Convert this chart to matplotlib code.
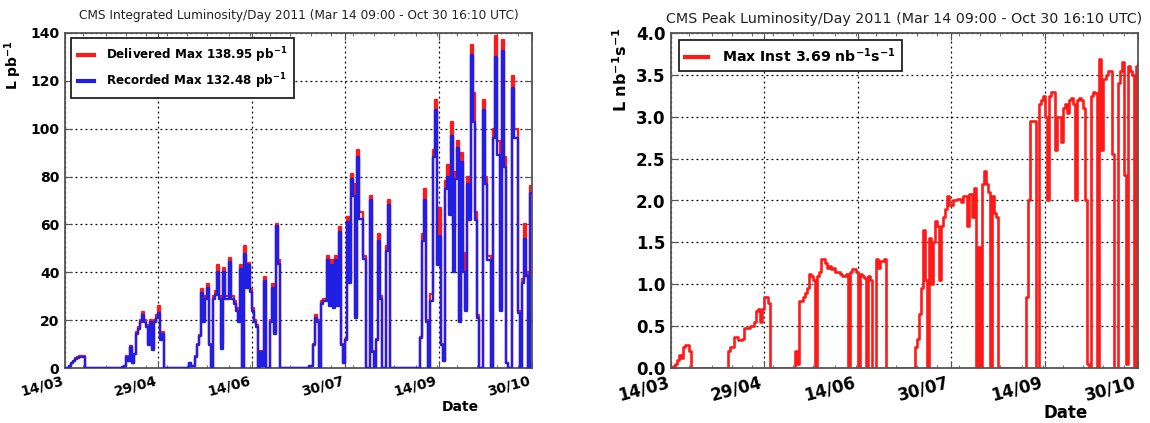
import numpy as np
import pandas as pd
import matplotlib
matplotlib.use('Agg')
import matplotlib.pyplot as plt
import matplotlib.dates as mdates
from matplotlib.lines import Line2D

# ---------------- data ----------------
start_date = '2011-03-14'
tick_dates = ['2011-03-14', '2011-04-29', '2011-06-14', '2011-07-30', '2011-09-14', '2011-10-30']
tick_labels = ['14/03', '29/04', '14/06', '30/07', '14/09', '30/10']

left_title = 'CMS Integrated Luminosity/Day 2011 (Mar 14 09:00 - Oct 30 16:10 UTC)'
right_title = 'CMS Peak Luminosity/Day 2011 (Mar 14 09:00 - Oct 30 16:10 UTC)'

delivered_label = 'Delivered Max 138.95 pb$^{-1}$'
recorded_label = 'Recorded Max 132.48 pb$^{-1}$'
peak_label = 'Max Inst 3.69 nb$^{-1}$s$^{-1}$'

# daily delivered integrated luminosity (pb^-1), Mar 14 .. Oct 30
delivered = [
    0, 0, 1, 2, 3, 4, 4.5, 5, 5, 5,
    0, 0, 0, 0, 0, 0, 0, 0, 0, 0,
    0, 0, 0, 0, 0, 0, 0, 0, 0.5, 1,
    5, 3, 9, 2, 6, 15, 17, 20, 23.5, 20,
    18, 10, 20, 8, 20, 22, 26, 12, 15, 0,
    0, 0, 0, 0, 0, 0, 0, 0, 0, 0,
    0, 2, 1, 1, 5, 10, 14, 33, 20, 30,
    35, 10, 0, 30, 32, 43, 30, 10, 42, 30,
    30, 46, 30, 28, 25, 20, 43, 0, 51, 35,
    44, 33, 25, 20, 18, 0, 7, 1, 38, 0,
    0, 20, 35, 15, 60, 45, 0, 0, 0, 0,
    0, 0, 0, 0, 0, 0, 0, 0, 0, 0,
    1, 1, 10, 22, 20, 0, 28, 29, 29, 47,
    27, 45, 26, 47, 27, 59, 10, 2, 12, 63,
    37, 81, 77, 22, 91, 65, 65, 47, 0, 0,
    72, 7, 0, 12, 56, 30, 0, 0, 51, 70,
    0, 0, 0, 0, 0, 0, 0, 0, 0, 0,
    0, 0, 0, 0, 0, 13, 56, 75, 20, 0,
    31, 91, 112, 45, 67, 10, 3, 78, 85, 67,
    103, 58, 82, 95, 20, 90, 48, 25, 80, 65,
    135, 115, 65, 22, 0, 0, 112, 80, 47, 47,
    0, 100, 138.95, 95, 25, 137, 88, 2, 0, 0,
    122, 100, 100, 24, 0, 37, 60, 40, 0, 76,
    76,
]

# daily recorded integrated luminosity (pb^-1)
recorded = [
    0, 0, 1, 1.9, 2.9, 3.8, 4.3, 4.8, 4.8, 4.8,
    0, 0, 0, 0, 0, 0, 0, 0, 0, 0,
    0, 0, 0, 0, 0, 0, 0, 0, 0.5, 1,
    4.8, 2.9, 8.6, 1.9, 5.7, 14.4, 16.3, 19.2, 22.3, 19.2,
    17.3, 9.6, 19.2, 7.7, 19.2, 21.1, 23, 11.5, 14.4, 0,
    0, 0, 0, 0, 0, 0, 0, 0, 0, 0,
    0, 1.9, 1, 1, 4.8, 9.6, 13.4, 31.5, 19.2, 28.8,
    33.6, 9.6, 0, 28.8, 30.7, 40, 28.8, 8, 40.3, 28.8,
    28.8, 44.2, 28.8, 26.9, 24, 19.2, 41.3, 0, 47.5, 33.6,
    43, 31.7, 24, 19.2, 17.3, 0, 6.7, 1, 36.5, 0,
    0, 19.2, 33.6, 14.4, 59.5, 43.5, 0, 0, 0, 0,
    0, 0, 0, 0, 0, 0, 0, 0, 0, 0,
    1, 1, 9.6, 21.1, 19.2, 0, 26.9, 27.8, 27.8, 45,
    26, 43.2, 25, 45, 26, 57, 9.6, 1.9, 11.5, 61,
    35.5, 79, 72, 21, 88, 62.4, 62.4, 45.5, 0, 0,
    70, 6.7, 0, 11.5, 53, 28.8, 0, 0, 49, 68,
    0, 0, 0, 0, 0, 0, 0, 0, 0, 0,
    0, 0, 0, 0, 0, 12.5, 53, 70, 19.2, 0,
    28, 88, 108, 43, 55, 9.6, 2.9, 75, 80, 64,
    97, 40, 79, 92, 19.2, 86, 40, 24, 77, 62,
    131, 103, 62, 21, 0, 0, 108, 77, 45, 45,
    0, 96, 130, 89, 24, 132.48, 84, 1.9, 0, 0,
    117, 96, 96, 23, 0, 35.5, 54, 38.4, 0, 73,
    73,
]

# daily peak instantaneous luminosity (nb^-1 s^-1)
peak = [
    0, 0.02, 0.05, 0.1, 0.15, 0.12, 0.25, 0.27, 0.27, 0.2,
    0, 0, 0, 0, 0, 0, 0, 0, 0, 0,
    0, 0, 0, 0, 0, 0, 0, 0, 0.2, 0.25,
    0.25, 0.37, 0.37, 0.33, 0.33, 0.35, 0.48, 0.48, 0.48, 0.5,
    0.5, 0.55, 0.68, 0.7, 0.55, 0.7, 0.85, 0.85, 0.78, 0,
    0, 0, 0, 0, 0, 0, 0, 0, 0, 0,
    0, 0.2, 0.05, 0.8, 0.8, 0.85, 0.9, 0.95, 1.12, 1.1,
    1.05, 0, 1.1, 1.15, 1.3, 1.3, 1.25, 1.2, 1.22, 1.18,
    1.2, 1.15, 1.15, 1.12, 1.1, 1.1, 1.12, 0, 1.15, 1.18,
    1.18, 1.15, 0, 1.12, 1.1, 1.08, 0, 1.1, 1.05, 0,
    0, 1.3, 1.2, 1.28, 1.28, 1.3, 0, 0, 0, 0,
    0, 0, 0, 0, 0, 0, 0, 0, 0, 0,
    0.25, 0.35, 0.65, 0.95, 1.65, 1.05, 0, 1.55, 1.0, 1.5,
    1.75, 1.7, 1.05, 1.7, 1.8, 1.9, 2.05, 1.95, 1.95, 2.0,
    2.0, 2.02, 2.02, 1.98, 2.05, 2.05, 1.7, 2.08, 1.8, 2.15,
    0, 1.45, 0, 2.2, 2.35, 2.2, 2.1, 0, 2.05, 1.85,
    1.8, 0, 0, 0, 0, 0, 0, 0, 0, 0,
    0, 0, 0, 0, 0, 0.85, 2.0, 2.95, 2.95, 2.95,
    0, 3.15, 3.2, 3.25, 3.0, 2.0, 3.25, 3.3, 3.3, 2.6,
    3.0, 3.0, 2.7, 3.1, 3.15, 3.05, 3.2, 3.22, 3.15, 2.0,
    3.2, 3.22, 3.2, 3.1, 2.0, 0.05, 0, 3.25, 3.3, 3.28,
    0, 3.69, 2.6, 3.45, 3.5, 3.55, 3.55, 2.55, 0, 0,
    3.4, 3.55, 3.65, 2.3, 0.05, 3.6, 3.55, 3.5, 0, 3.6,
    3.63,
]

left_yticks = [0, 20, 40, 60, 80, 100, 120, 140]
right_yticks = [0.0, 0.5, 1.0, 1.5, 2.0, 2.5, 3.0, 3.5, 4.0]

# ---------------- style ----------------
plt.rcParams['font.family'] = ['DejaVu Sans']
plt.rcParams['mathtext.default'] = 'regular'
plt.rcParams['xtick.direction'] = 'in'
plt.rcParams['ytick.direction'] = 'in'
plt.rcParams['xtick.top'] = True
plt.rcParams['ytick.right'] = True

days = pd.date_range(start_date, periods=len(delivered), freq='D')
x = mdates.date2num(days.to_pydatetime())
xt = mdates.date2num(pd.to_datetime(tick_dates).to_pydatetime())

RED = '#ff1a1a'
BLUE = '#1f1fe6'
SPINE = '#555555'

fig = plt.figure(figsize=(11.5, 4.23), dpi=100)
axL = fig.add_axes([65 / 1150, 55 / 423, 467 / 1150, 335 / 423])
axR = fig.add_axes([671 / 1150, 55 / 423, 467 / 1150, 335 / 423])


def style_axes(ax, fs):
    for s in ax.spines.values():
        s.set_color(SPINE)
        s.set_linewidth(1.3)
    ax.grid(True, linestyle=(0, (1.5, 2.5)), color='k', linewidth=0.9)
    ax.set_axisbelow(True)
    ax.set_xlim(xt[0], xt[-1])
    ax.set_xticks(xt)
    ax.set_xticklabels(tick_labels, rotation=15, ha='right')
    ax.xaxis.set_minor_locator(mdates.DayLocator(bymonthday=[3, 13, 23]))
    ax.tick_params(which='major', length=5, width=0.8, color=SPINE, labelsize=fs, pad=4)
    ax.tick_params(which='minor', length=2.5, width=0.6, color=SPINE)
    for lab in ax.get_xticklabels() + ax.get_yticklabels():
        lab.set_fontweight('bold')


# ---- left: integrated luminosity per day ----
axL.step(x, delivered, where='post', color=RED, linewidth=1.7, zorder=2)
axL.step(x, recorded, where='post', color=BLUE, linewidth=1.7, zorder=3)
axL.set_ylim(0, 140)
axL.set_yticks(left_yticks)
style_axes(axL, 10)
axL.set_title(left_title, fontsize=8.7, color='#222222', pad=10)
axL.set_ylabel('L pb$^{-1}$', fontsize=10, fontweight='bold')
axL.yaxis.set_label_coords(-0.088, 0.905)
axL.set_xlabel('Date', fontsize=10, fontweight='bold')
axL.xaxis.set_label_coords(0.846, -0.097)
hL = [Line2D([], [], color=RED, linewidth=3), Line2D([], [], color=BLUE, linewidth=3)]
legL = axL.legend(hL, [delivered_label, recorded_label], loc='upper left',
                  bbox_to_anchor=(0.013, 0.985), borderaxespad=0, fancybox=False,
                  framealpha=1, edgecolor='#222222', handlelength=1.3,
                  prop={'weight': 'bold', 'size': 8.6}, labelspacing=0.55,
                  borderpad=0.6, handletextpad=1.0)
legL.get_frame().set_linewidth(1.3)

# ---- right: peak luminosity per day ----
axR.step(x, peak, where='post', color=RED, linewidth=1.9, zorder=2)
axR.set_ylim(0, 4.0)
axR.set_yticks(right_yticks)
axR.set_yticklabels(['%.1f' % v for v in right_yticks])
style_axes(axR, 12)
axR.set_title(right_title, fontsize=10.3, color='#222222', pad=7)
axR.set_ylabel('L nb$^{-1}$s$^{-1}$', fontsize=11.5, fontweight='bold')
axR.yaxis.set_label_coords(-0.088, 0.89)
axR.set_xlabel('Date', fontsize=12, fontweight='bold')
axR.xaxis.set_label_coords(0.846, -0.108)
hR = [Line2D([], [], color=RED, linewidth=3)]
legR = axR.legend(hR, [peak_label], loc='upper left',
                  bbox_to_anchor=(0.017, 0.979), borderaxespad=0, fancybox=False,
                  framealpha=1, edgecolor='#222222', handlelength=1.6,
                  prop={'weight': 'bold', 'size': 10.2}, borderpad=0.45,
                  handletextpad=1.0)
legR.get_frame().set_linewidth(1.3)

fig.savefig('out.png', dpi=100)
